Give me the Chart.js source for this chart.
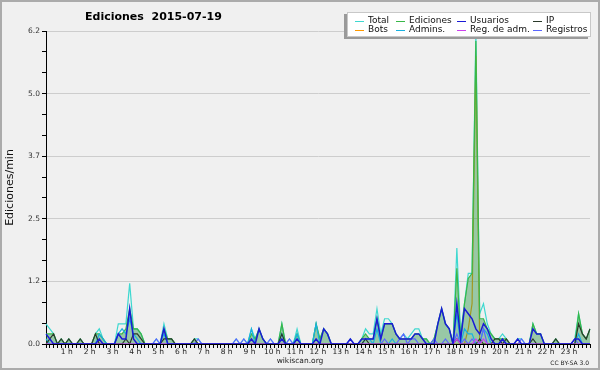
<!DOCTYPE html>
<html>
<head>
<meta charset="utf-8">
<script src="https://cdn.jsdelivr.net/npm/chart.js@4.4.0/dist/chart.umd.min.js"></script>
<style>
  html, body { margin: 0; padding: 0; background: #f0f0f0; }
  #wrap { position: relative; width: 600px; height: 370px; font-family: "DejaVu Sans", sans-serif; }
  #frame { position: absolute; left: 0; top: 0; width: 600px; height: 370px; box-sizing: border-box; border: 2px solid #ababab; pointer-events: none; }
  #title { position: absolute; left: 85px; top: 10px; font-weight: bold; font-size: 11px; white-space: pre; }
  #site { position: absolute; left: 0; width: 600px; top: 356px; text-align: center; font-size: 7.5px; color: #222; }
  #lic { position: absolute; right: 11px; top: 359px; font-size: 6px; color: #222; }
  #legend { position: absolute; left: 347px; top: 12px; width: 244px; height: 25px; background: #fff; border: 1px solid #c8c8c8; box-sizing: border-box; box-shadow: -3px 2px 0 #9a9a9a; }
  .item { position: absolute; font-size: 9px; line-height: 9px; white-space: nowrap; color: #111; }
  .swatch { position: absolute; height: 1px; width: 9px; }
</style>
</head>
<body>
<div id="wrap">
  <canvas id="chart" width="600" height="370"></canvas>
  <div id="title">Ediciones  2015-07-19</div>
  <div id="site">wikiscan.org</div>
  <div id="lic">CC BY-SA 3.0</div>
  <div id="legend"></div>
  <div id="frame"></div>
</div>
<script>
const hourLabels = ["", "1 h", "2 h", "3 h", "4 h", "5 h", "6 h", "7 h", "8 h", "9 h", "10 h", "11 h",
  "12 h", "13 h", "14 h", "15 h", "16 h", "17 h", "18 h", "19 h", "20 h", "21 h", "22 h", "23 h"];
const yTickLabels = ["0.0", "1.2", "2.5", "3.7", "5.0", "6.2"];
const yMax = 6.2;

// edits per minute, one value per 10 minutes (6 per hour)
const total = [
  .4, .3, .2, 0, .1, 0,   .1, 0, 0, .1, 0, 0,     0, .2, .3, .1, 0, 0,    0, .4, .4, .4, 1.2, .3,
  .3, .2, 0, 0, 0, .1,    0, .4, .1, .1, 0, 0,    0, 0, 0, .1, .1, 0,     0, 0, 0, 0, 0, 0,
  0, 0, .1, 0, .1, 0,     .3, .1, .3, .1, 0, .1,  0, 0, .4, 0, .1, 0,     .3, 0, 0, 0, 0, .4,
  .1, .3, .2, 0, 0, 0,    0, 0, .1, 0, 0, .1,     .3, .2, .2, .7, .2, .5, .5, .4, .2, .1, .2, .1,
  .2, .3, .3, .1, .1, 0,  .1, .4, .7, .4, .3, 0,  1.9, .2, .8, 1.4, 1.4, 6.2, .6, .8, .4, .2, .1, .1,
  .2, .1, 0, 0, .1, .1,   0, 0, .4, .2, .2, 0,    0, 0, .1, 0, 0, 0,      0, .1, .6, .2, .1, .3
];
const ediciones = [
  .2, .2, .2, 0, .1, 0,   .1, 0, 0, .1, 0, 0,     0, .2, .2, .1, 0, 0,    0, .2, .2, .3, .7, .3,
  .3, .2, 0, 0, 0, 0,     0, .3, .1, .1, 0, 0,    0, 0, 0, .1, 0, 0,      0, 0, 0, 0, 0, 0,
  0, 0, 0, 0, 0, 0,       .2, .1, .3, .1, 0, 0,   0, 0, .4, 0, 0, 0,      .2, 0, 0, 0, 0, .4,
  .1, .3, .2, 0, 0, 0,    0, 0, 0, 0, 0, .1,      .2, .1, .1, .5, .1, .4, .4, .4, .2, .1, .1, .1,
  .1, .2, .2, .1, .1, 0,  .1, .4, .7, .4, .3, 0,  1.5, .1, .8, 1.3, 1.4, 6.0, .5, .5, .3, .2, .1, .1,
  .1, .1, 0, 0, 0, 0,     0, 0, .4, .2, .2, 0,    0, 0, .1, 0, 0, 0,      0, 0, .6, .2, .1, .3
];
const usuarios = [
  .2, .1, 0, 0, 0, 0,     0, 0, 0, 0, 0, 0,       0, 0, .1, 0, 0, 0,      0, .2, .1, .1, .7, .1,
  0, 0, 0, 0, 0, 0,       0, .3, 0, 0, 0, 0,      0, 0, 0, 0, 0, 0,       0, 0, 0, 0, 0, 0,
  0, 0, 0, 0, 0, 0,       .1, 0, .3, .1, 0, 0,    0, 0, .1, 0, 0, 0,      .1, 0, 0, 0, 0, .1,
  0, .3, .2, 0, 0, 0,     0, 0, .1, 0, 0, .1,     .1, .1, .1, .5, .1, .4, .4, .4, .2, .1, .1, .1,
  .1, .2, .2, .1, 0, 0,   0, .4, .7, .4, .3, 0,   .8, .1, .7, .6, .5, .3, .2, .4, .3, .1, 0, 0,
  .1, 0, 0, 0, .1, 0,     0, 0, .3, .2, .2, 0,    0, 0, 0, 0, 0, 0,       0, .1, .1, 0, 0, 0
];
const ip = [
  0, .1, .2, 0, .1, 0,    .1, 0, 0, .1, 0, 0,     0, .2, 0, 0, 0, 0,      0, 0, 0, .1, 0, .2,
  .2, .1, 0, 0, 0, 0,     0, .1, .1, .1, 0, 0,    0, 0, 0, .1, 0, 0,      0, 0, 0, 0, 0, 0,
  0, 0, 0, 0, 0, 0,       0, 0, 0, 0, 0, 0,       0, 0, .2, 0, 0, 0,      0, 0, 0, 0, 0, 0,
  0, 0, 0, 0, 0, 0,       0, 0, 0, 0, 0, 0,       .1, 0, 0, 0, 0, 0,      0, 0, 0, 0, 0, 0,
  0, 0, 0, 0, 0, 0,       0, 0, 0, 0, 0, 0,       .1, 0, 0, 0, 0, 0,      .1, 0, 0, 0, .1, .1,
  0, .1, 0, 0, 0, 0,      0, 0, .1, 0, 0, 0,      0, 0, .1, 0, 0, 0,      0, 0, .4, .2, .1, .3
];
const bots = [
  0, 0, 0, 0, 0, 0,       0, 0, 0, 0, 0, 0,       0, 0, 0, 0, 0, 0,       0, 0, 0, 0, 0, 0,
  0, 0, 0, 0, 0, 0,       0, 0, 0, 0, 0, 0,       0, 0, 0, 0, 0, 0,       0, 0, 0, 0, 0, 0,
  0, 0, 0, 0, 0, 0,       0, 0, 0, 0, 0, 0,       0, 0, 0, 0, 0, 0,       0, 0, 0, 0, 0, 0,
  0, 0, 0, 0, 0, 0,       0, 0, 0, 0, 0, 0,       0, 0, 0, 0, 0, 0,       0, 0, 0, 0, 0, 0,
  0, 0, 0, 0, 0, 0,       0, 0, 0, 0, 0, 0,       0, 0, 0, .3, .8, 5.7,   0, 0, 0, 0, 0, 0,
  0, 0, 0, 0, 0, 0,       0, 0, 0, 0, 0, 0,       0, 0, 0, 0, 0, 0,       0, 0, 0, 0, 0, 0
];
const admins = [
  .1, 0, 0, 0, 0, 0,      0, 0, 0, 0, 0, 0,       0, 0, .2, .1, 0, 0,     0, .2, .3, .2, .5, .2,
  .1, 0, 0, 0, 0, 0,      0, .2, 0, 0, 0, 0,      0, 0, 0, 0, 0, 0,       0, 0, 0, 0, 0, 0,
  0, 0, 0, 0, 0, 0,       .3, 0, 0, 0, 0, 0,      0, 0, .2, 0, 0, 0,      .2, 0, 0, 0, 0, .4,
  0, 0, 0, 0, 0, 0,       0, 0, 0, 0, 0, 0,       .1, .1, 0, .3, 0, 0,    0, .1, 0, 0, 0, 0,
  0, 0, 0, 0, 0, 0,       0, 0, 0, 0, 0, 0,       .6, 0, .3, .2, .2, 0,   0, .3, .2, 0, 0, 0,
  .1, 0, 0, 0, 0, 0,      0, 0, 0, 0, 0, 0,       0, 0, 0, 0, 0, 0,       0, 0, .2, 0, 0, 0
];
const regAdm = [
  0, 0, 0, 0, 0, 0,       0, 0, 0, 0, 0, 0,       0, 0, 0, 0, 0, 0,       0, 0, 0, 0, 0, 0,
  0, 0, 0, 0, 0, 0,       0, 0, 0, 0, 0, 0,       0, 0, 0, 0, 0, 0,       0, 0, 0, 0, 0, 0,
  0, 0, 0, 0, 0, 0,       0, 0, 0, 0, 0, 0,       0, 0, 0, 0, 0, 0,       0, 0, 0, 0, 0, 0,
  0, 0, 0, 0, 0, 0,       0, 0, 0, 0, 0, 0,       0, 0, 0, 0, 0, 0,       0, 0, 0, 0, 0, 0,
  0, 0, 0, 0, 0, 0,       0, 0, 0, 0, 0, 0,       .1, 0, 0, 0, 0, .1,     0, .1, 0, 0, 0, 0,
  0, 0, 0, 0, 0, 0,       0, 0, 0, 0, 0, 0,       0, 0, 0, 0, 0, 0,       0, 0, 0, 0, 0, 0
];
const registros = [
  0, 0, 0, 0, 0, 0,       0, 0, 0, 0, 0, 0,       0, 0, 0, 0, 0, 0,       0, 0, 0, 0, 0, 0,
  0, 0, 0, 0, 0, .1,      0, 0, 0, 0, 0, 0,       0, 0, 0, 0, .1, 0,      0, 0, 0, 0, 0, 0,
  0, 0, .1, 0, .1, 0,     0, 0, 0, 0, 0, .1,      0, 0, 0, 0, .1, 0,      0, 0, 0, 0, 0, 0,
  0, 0, 0, 0, 0, 0,       0, 0, 0, 0, 0, 0,       0, 0, 0, 0, 0, .1,      0, 0, 0, .1, .2, 0,
  .1, .1, 0, 0, 0, 0,     .1, 0, 0, .1, 0, 0,     .2, 0, .1, 0, .1, 0,    0, .3, 0, 0, 0, 0,
  0, 0, 0, 0, 0, .1,      0, 0, 0, 0, 0, 0,       0, 0, 0, 0, 0, 0,       0, .1, 0, 0, 0, 0
];

const seriesNames = ["Total", "Ediciones", "Usuarios", "IP", "Bots", "Admins.", "Reg. de adm.", "Registros"];
const seriesColors = ["#3ed8d0", "#38b848", "#1a1ad6", "#2a3a2a", "#ff9900", "#18b0e0", "#cc40ee", "#5a66ff"];
const seriesData = [total, ediciones, usuarios, ip, bots, admins, regAdm, registros];
// lower order = drawn on top; bots sits under the green fill
const drawOrder = [11, 9, 2, 4, 10, 6, 3, 5];

const slots = [];
hourLabels.forEach((h, hour) => {
  for (let k = 0; k < 6; k++) slots.push(hour + ":" + k + "0");
});

const datasets = seriesNames.map((name, i) => ({
  label: name,
  data: seriesData[i],
  borderColor: seriesColors[i],
  borderWidth: i === 2 ? 1.5 : 1.2,
  fill: i === 1 ? "origin" : false,
  backgroundColor: i === 1 ? "rgba(45, 150, 75, 0.45)" : "transparent",
  pointRadius: 0,
  tension: 0,
  order: drawOrder[i],
}));

// html legend, 4 columns x 2 rows
const legendBox = document.getElementById("legend");
const colText = [20, 61, 122, 198];
const rowMid = [8, 17];
seriesNames.forEach((name, i) => {
  const col = i % 4, row = Math.floor(i / 4);
  const sw = document.createElement("div");
  sw.className = "swatch";
  sw.style.left = (colText[col] - 13) + "px";
  sw.style.top = rowMid[row] + "px";
  sw.style.background = seriesColors[i];
  legendBox.appendChild(sw);
  const t = document.createElement("div");
  t.className = "item";
  t.style.left = colText[col] + "px";
  t.style.top = (rowMid[row] - 5) + "px";
  t.textContent = name;
  legendBox.appendChild(t);
});

new Chart(document.getElementById("chart"), {
  type: "line",
  data: { labels: slots, datasets: datasets },
  options: {
    responsive: false,
    animation: false,
    devicePixelRatio: 1,
    layout: { padding: { top: 31, right: 10, left: 0, bottom: 0 } },
    plugins: { legend: { display: false }, tooltip: { enabled: false } },
    scales: {
      x: {
        type: "category",
        offset: false,
        afterFit: (scale) => { scale.height = 26; },
        border: { color: "#000", width: 1 },
        grid: { drawOnChartArea: false, tickLength: 4, tickColor: "#000", tickWidth: 1 },
        ticks: {
          autoSkip: false,
          maxRotation: 0,
          minRotation: 0,
          padding: 0,
          labelOffset: -2,
          color: "#222",
          font: { family: "DejaVu Sans", size: 7.5 },
          callback: (v, i) => (i % 6 === 0 ? hourLabels[i / 6] : ""),
        },
      },
      y: {
        min: 0,
        max: yMax,
        afterFit: (scale) => { scale.width = 46; },
        afterBuildTicks: (scale) => {
          const t = [];
          for (let k = 0; k <= 15; k++) t.push({ value: (yMax * k) / 15 });
          scale.ticks = t;
        },
        border: { color: "#000", width: 1 },
        grid: {
          tickLength: 4,
          tickColor: "#000",
          color: (c) => (c.index % 3 === 0 && c.index > 0 ? "#cdcdcd" : "rgba(0,0,0,0)"),
        },
        ticks: {
          padding: 2,
          color: "#333",
          font: { family: "DejaVu Sans", size: 7.5 },
          callback: (v, i) => (i % 3 === 0 ? yTickLabels[i / 3] : ""),
        },
        title: {
          display: true,
          text: "Ediciones/min",
          color: "#111",
          font: { family: "DejaVu Sans", size: 11 },
          padding: { top: 4, bottom: 0 },
        },
      },
    },
  },
});
</script>
</body>
</html>
